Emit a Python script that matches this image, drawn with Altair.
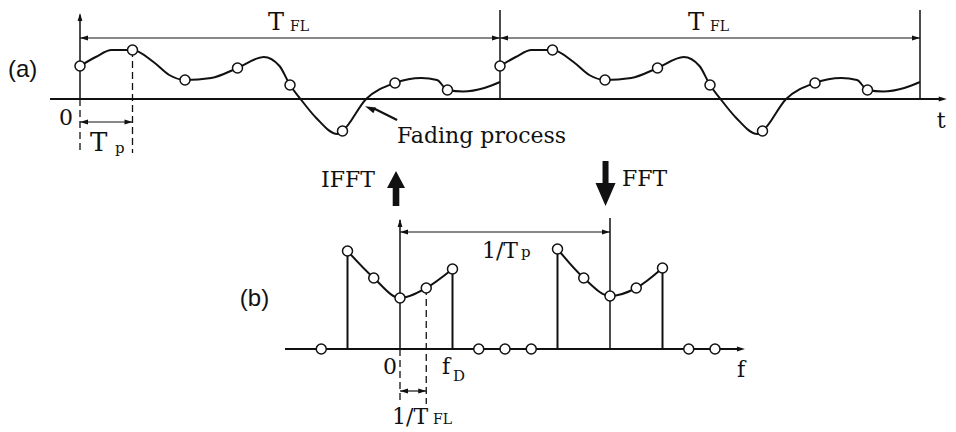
import altair as alt
import pandas as pd

# ---------------- (a) time domain : time in units of Tp, amplitude (arbitrary) ----------------
period_t = 8                      # T_FL = 8 Tp
curve_t = [0, 0.3, 0.6, 1.0, 1.4, 1.7, 2.0, 2.5, 3.0, 3.5, 3.8, 4.0, 4.2, 4.5, 4.9, 5.0,
           5.45, 6.0, 6.5, 6.8, 7.0, 7.3, 7.7, 8.0]
curve_a = [3.3, 4.2, 4.9, 4.9, 3.7, 2.4, 1.9, 2.1, 3.1, 4.2, 3.3, 1.4, 0.0, -1.9, -3.5, -3.2,
           0.0, 1.6, 2.1, 1.9, 0.9, 0.75, 1.1, 1.7]
sample_t = [0, 1, 2, 3, 4, 5, 6, 7]
sample_a = [3.3, 4.9, 1.9, 3.1, 1.4, -3.2, 1.6, 0.9]

# ---------------- (b) frequency domain : frequency in units of 1/T_FL ----------------
period_f = 8                      # 1/Tp = 8 / T_FL
spec_f = [-2, -1, 0, 1, 2]
spec_m = [9.8, 7.1, 5.1, 6.1, 8.0]
spec2_m = [10.0, 7.1, 5.3, 6.1, 8.1]
zero_f = [-3, 3, 4, 5, 11, 12]

INK = "#111111"
SERIF = "DejaVu Serif"
SANS = "Liberation Sans"
HEAD = "M0,0 L-2,-0.6 L-2,0.6 Z"          # small arrow head, tip at origin, pointing right
UP_BLOCK = "M0,0 L0.9,1.7 L0.33,1.7 L0.33,3.5 L-0.33,3.5 L-0.33,1.7 L-0.9,1.7 Z"
DOWN_BLOCK = "M0,0 L1,-2.3 L0.3,-2.3 L0.3,-4.5 L-0.3,-4.5 L-0.3,-2.3 L-1,-2.3 Z"

TX = [-1.37143, 16.53333]
TY = [-6.1, 9.1]
FX = [-14.9333, 20.8762]
FY = [-7.6, 18.8]


def enc(xd, yd, two=False):
    e = dict(
        x=alt.X("x:Q", scale=alt.Scale(domain=xd, nice=False, zero=False), axis=None),
        y=alt.Y("y:Q", scale=alt.Scale(domain=yd, nice=False, zero=False), axis=None),
    )
    if two:
        e["x2"] = "x2:Q"
        e["y2"] = "y2:Q"
    return e


def rules(rows, xd, yd, width=1.5, dash=None):
    df = pd.DataFrame(rows, columns=["x", "y", "x2", "y2"])
    kw = dict(color=INK, strokeWidth=width)
    if dash:
        kw["strokeDash"] = dash
    return alt.Chart(df).mark_rule(**kw).encode(**enc(xd, yd, True))


def heads(rows, xd, yd, size=64, shape=HEAD):
    df = pd.DataFrame(rows, columns=["x", "y", "angle"])
    return alt.Chart(df).mark_point(shape=shape, filled=True, fill=INK, stroke=INK,
                                     strokeWidth=0, size=size, opacity=1).encode(
        angle=alt.Angle("angle:Q", scale=None), **enc(xd, yd))


def texts(rows, xd, yd, font=SERIF, size=22, align="left", baseline="alphabetic"):
    df = pd.DataFrame(rows, columns=["x", "y", "label"])
    return alt.Chart(df).mark_text(font=font, fontSize=size, align=align, baseline=baseline,
                                   color=INK).encode(text="label:N", **enc(xd, yd))


def circles(df, xd, yd):
    return alt.Chart(df).mark_point(shape="circle", filled=True, fill="white", stroke=INK,
                                    strokeWidth=1.5, size=100, opacity=1).encode(**enc(xd, yd))


# ---------------- panel (a) ----------------
curve_df = pd.DataFrame({
    "x": [t + k * period_t for k in range(2) for t in curve_t],
    "y": curve_a * 2,
    "period": [k for k in range(2) for _ in curve_t],
})
samp_df = pd.DataFrame({
    "x": [t + k * period_t for k in range(2) for t in sample_t],
    "y": sample_a * 2,
})

top_layers = [
    rules([[-0.571, 0, 16.4, 0]], TX, TY, width=2),                      # t axis
    rules([[0, 0, 0, 8.4]], TX, TY, width=1.5),                          # amplitude axis
    rules([[8, 0, 8, 8.9], [16, 0, 16, 8.9]], TX, TY, width=1.5),        # period borders
    rules([[0, 6.1, 16, 6.1]], TX, TY, width=1.2),                        # T_FL dimension
    rules([[0, 0, 0, -5.4], [1, 4.9, 1, -5.4]], TX, TY, width=1.3, dash=[7, 4]),
    rules([[0, -2.3, 1, -2.3]], TX, TY, width=1.2),                       # Tp dimension
    rules([[6.04, -2.1, 5.6, -0.95]], TX, TY, width=2.2),                 # fading arrow shaft
    heads([[16.51, 0, 0], [0, 8.6, 270],
           [0, 6.1, 180], [8, 6.1, 0], [8, 6.1, 180], [16, 6.1, 0],
           [0, -2.3, 180], [1, -2.3, 0]], TX, TY),
    heads([[5.43, -0.72, 203.6]], TX, TY, size=110),
    alt.Chart(curve_df).mark_line(color=INK, strokeWidth=2, interpolate="monotone").encode(
        detail="period:N", **enc(TX, TY)),
    circles(samp_df, TX, TY),
    texts([[-1.371, 2.9, "(a)"]], TX, TY, font=SANS, size=24, baseline="middle"),
    texts([[3.58, 6.9, "T"], [11.58, 6.9, "T"]], TX, TY, size=24),
    texts([[0.19, -5.2, "T"]], TX, TY, size=26),
    texts([[4.0, 6.8, "FL"], [12.0, 6.8, "FL"]], TX, TY, size=14),
    texts([[0.667, -5.35, "p"]], TX, TY, size=15),
    texts([[-0.267, -2.6, "0"]], TX, TY, size=22, align="center"),
    texts([[16.32, -2.9, "t"]], TX, TY, size=22),
    texts([[6.04, -4.4, "Fading process"]], TX, TY, size=22),
]
top = alt.layer(*top_layers).properties(width=940, height=152)

# ---------------- panel (b) ----------------
spec_df = pd.DataFrame({
    "x": spec_f + [f + period_f for f in spec_f],
    "y": spec_m + spec2_m,
    "grp": ["a"] * len(spec_f) + ["b"] * len(spec_f),
})
zero_df = pd.DataFrame({"x": zero_f, "y": [0.0] * len(zero_f)})

bot_layers = [
    rules([[-4.38, 0, 13.0, 0]], FX, FY, width=2),                       # f axis
    rules([[0, 0, 0, 12.9]], FX, FY, width=1.5),                          # spectrum axis
    rules([[-2, 0, -2, spec_m[0]], [2, 0, 2, spec_m[4]],
           [6, 0, 6, spec2_m[0]], [10, 0, 10, spec2_m[4]]], FX, FY, width=2),
    rules([[8, 0, 8, 13.1]], FX, FY, width=1.5),
    rules([[0, 0, 0, -5.5], [1, spec_m[3], 1, -5.5]], FX, FY, width=1.3, dash=[7, 4]),
    rules([[0, -4.2, 1, -4.2]], FX, FY, width=1.2),                       # 1/T_FL dimension
    rules([[0, 11.7, 8, 11.7]], FX, FY, width=1.2),                       # 1/Tp dimension
    heads([[13.14, 0, 0], [0, 13.0, 270],
           [0, -4.2, 180], [1, -4.2, 0], [0, 11.7, 180], [8, 11.7, 0]], FX, FY),
    heads([[-0.152, 17.8, 0]], FX, FY, size=400, shape=UP_BLOCK),
    heads([[7.83, 14.3, 0]], FX, FY, size=400, shape=DOWN_BLOCK),
    alt.Chart(spec_df).mark_line(color=INK, strokeWidth=2, interpolate="monotone").encode(
        detail="grp:N", **enc(FX, FY)),
    circles(spec_df, FX, FY),
    circles(zero_df, FX, FY),
    texts([[-3.01, 16.2, "IFFT"], [8.46, 16.3, "FFT"]], FX, FY, size=22),
    texts([[-6.1, 5.0, "(b)"]], FX, FY, font=SANS, size=24, baseline="middle"),
    texts([[3.12, 9.1, "1/T"], [-0.3, -7.5, "1/T"]], FX, FY, size=22),
    texts([[4.61, 9.2, "p"]], FX, FY, size=15),
    texts([[1.26, -7.5, "FL"]], FX, FY, size=14),
    texts([[-0.38, -2.5, "0"]], FX, FY, size=22, align="center"),
    texts([[1.6, -2.5, "f"], [12.84, -2.8, "f"]], FX, FY, size=22),
    texts([[2.02, -3.2, "D"]], FX, FY, size=15),
]
bottom = alt.layer(*bot_layers).properties(width=940, height=264)

chart = alt.vconcat(top, bottom, spacing=0).properties(
    padding=0, background="white"
).configure_view(stroke=None)

chart.save("out.html", embed_options={"renderer": "svg", "actions": False})
